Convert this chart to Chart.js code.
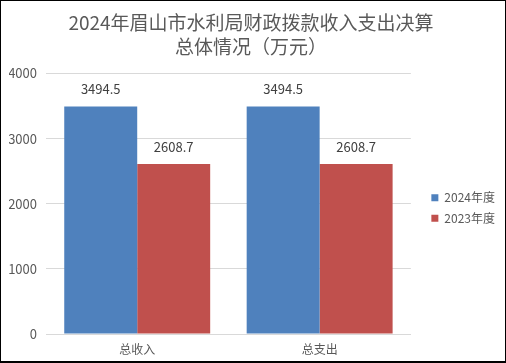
<!DOCTYPE html>
<html>
<head>
<meta charset="utf-8">
<script src="https://cdn.jsdelivr.net/npm/chart.js@4/dist/chart.umd.min.js"></script>
<style>
  html, body { margin: 0; padding: 0; background: #fff; }
  #box {
    width: 506px; height: 363px; box-sizing: border-box;
    border-top: 1px solid #000; border-left: 1px solid #000;
    border-right: 1px solid #000; border-bottom: 2px solid #000;
    background: #fff;
  }
  #wrap { width: 504px; height: 360px; position: relative; }
</style>
</head>
<body>
<div id="box"><div id="wrap"><canvas id="grafico"></canvas></div></div>
<script>
// dados
const categorias = ['总收入', '总支出'];
const valores2024 = [3494.5, 3494.5];
const valores2023 = [2608.7, 2608.7];
const rotulosSeries = ['2024年度', '2023年度'];
const ticksY = [0, 1000, 2000, 3000, 4000];

const FONTE = "'Noto Sans CJK SC', 'Noto Sans', sans-serif";
const CINZA = '#595959';

// rótulos de valor acima das barras
const rotulosValor = {
    id: 'rotulosValor',
    afterDatasetsDraw(chart) {
        const ctx = chart.ctx;
        ctx.save();
        ctx.font = '13px ' + FONTE;
        ctx.fillStyle = '#404040';
        ctx.textAlign = 'center';
        ctx.textBaseline = 'middle';
        chart.data.datasets.forEach((ds, i) => {
            chart.getDatasetMeta(i).data.forEach((bar, j) => {
                ctx.fillText(ds.data[j].toFixed(1), bar.x, bar.y - 17);
            });
        });
        ctx.restore();
    }
};

// empurra a legenda para a direita e para baixo (como no Excel)
const ajusteLegenda = {
    id: 'ajusteLegenda',
    afterLayout(chart) {
        const lg = chart.legend;
        lg.left += 12;
        lg.right += 12;
        lg.top += 28;
        lg.bottom += 28;
    }
};

new Chart(document.getElementById('grafico'), {
    type: 'bar',
    data: {
        labels: categorias,
        datasets: [
            { label: rotulosSeries[0], data: valores2024, backgroundColor: '#4F81BD' },
            { label: rotulosSeries[1], data: valores2023, backgroundColor: '#C0504D' }
        ]
    },
    options: {
        responsive: true,
        maintainAspectRatio: false,
        animation: false,
        layout: { padding: { left: 8, right: 12, top: 0, bottom: 2 } },
        datasets: { bar: { categoryPercentage: 0.8, barPercentage: 1.0 } },
        plugins: {
            title: {
                display: true,
                text: ['2024年眉山市水利局财政拨款收入支出决算', '总体情况（万元）'],
                color: CINZA,
                font: { family: FONTE, size: 19, weight: 'normal', lineHeight: 1.25 },
                padding: { top: 10, bottom: 15 }
            },
            legend: {
                position: 'right',
                labels: {
                    boxWidth: 7, boxHeight: 7,
                    color: CINZA,
                    font: { family: FONTE, size: 12 },
                    padding: 8.5
                }
            },
            tooltip: { enabled: false }
        },
        scales: {
            x: {
                afterFit: (axis) => { axis.height = 25; },
                grid: { display: false, drawTicks: false },
                border: { color: '#d9d9d9' },
                ticks: { color: CINZA, font: { family: FONTE, size: 12 }, padding: 8 }
            },
            y: {
                min: 0, max: 4000,
                afterBuildTicks: (axis) => { axis.ticks = ticksY.map(v => ({ value: v })); },
                afterFit: (axis) => { axis.width = 37; },
                grid: { color: '#d9d9d9', drawTicks: false },
                border: { display: false },
                ticks: {
                    color: CINZA, font: { family: FONTE, size: 13 }, padding: 9,
                    callback: (v) => String(v)
                }
            }
        }
    },
    plugins: [rotulosValor, ajusteLegenda]
});
</script>
</body>
</html>
